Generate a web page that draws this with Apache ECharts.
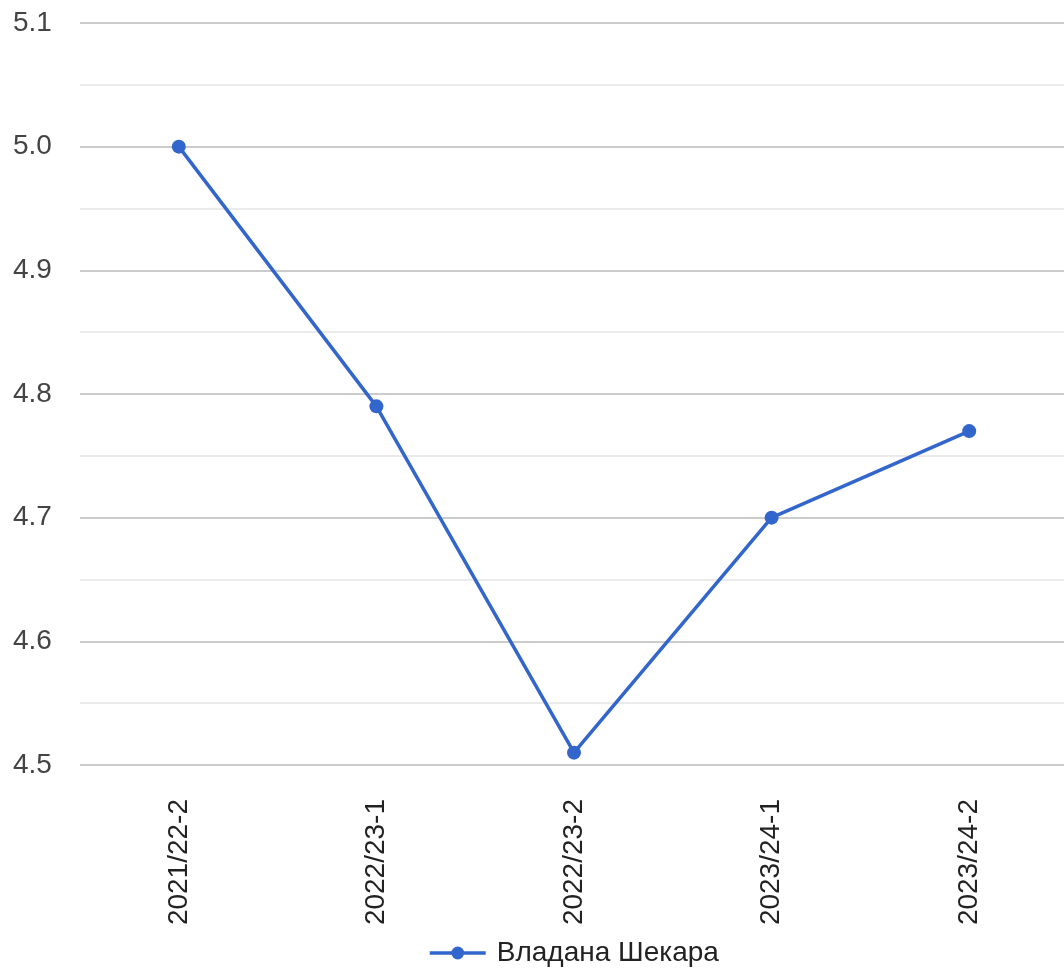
<!DOCTYPE html>
<html><head><meta charset="utf-8">
<script src="https://cdn.jsdelivr.net/npm/echarts@6/dist/echarts.min.js"></script>
<style>html,body{margin:0;padding:0;background:#fff}#c{width:1064px;height:971px}</style>
</head><body><div id="c"></div>
<script>
const categories = ['2021/22-2','2022/23-1','2022/23-2','2023/24-1','2023/24-2'];
const seriesName = 'Владана Шекара';
const values = [5.0, 4.79, 4.51, 4.70, 4.77];
const yTicks = [4.5, 4.6, 4.7, 4.8, 4.9, 5.0, 5.1];

const chart = echarts.init(document.getElementById('c'));
chart.setOption({
  animation: false,
  textStyle: { fontFamily: 'Arial, "Liberation Sans", sans-serif' },
  grid: { left: 80, width: 988, top: 23, bottom: 206, containLabel: false, outerBoundsMode: 'none' },
  xAxis: {
    type: 'category', data: categories, boundaryGap: true,
    axisLine: { show: false }, axisTick: { show: false },
    axisLabel: { rotate: 90, margin: 34, fontSize: 28, color: '#222' }
  },
  yAxis: {
    type: 'value', min: yTicks[0], max: yTicks[yTicks.length-1], interval: 0.1,
    axisLine: { show: false }, axisTick: { show: false },
    axisLabel: { align: 'left', margin: 67, fontSize: 28, color: '#444', formatter: v => v.toFixed(1) },
    splitLine: { lineStyle: { color: '#cccccc', width: 2 } },
    minorTick: { show: false, splitNumber: 2 },
    minorSplitLine: { show: true, lineStyle: { color: '#ebebeb', width: 2 } }
  },
  legend: {
    bottom: -1, left: 423, itemWidth: 56, itemHeight: 16,
    lineStyle: { width: 3.5 },
    textStyle: { fontSize: 28, color: '#222', padding: [0,0,0,6] },
    data: [seriesName]
  },
  series: [{
    name: seriesName, type: 'line', data: values,
    symbol: 'circle', symbolSize: 14, showSymbol: true,
    lineStyle: { color: '#3366cc', width: 3.5 },
    itemStyle: { color: '#3366cc' }
  }]
});
</script></body></html>
